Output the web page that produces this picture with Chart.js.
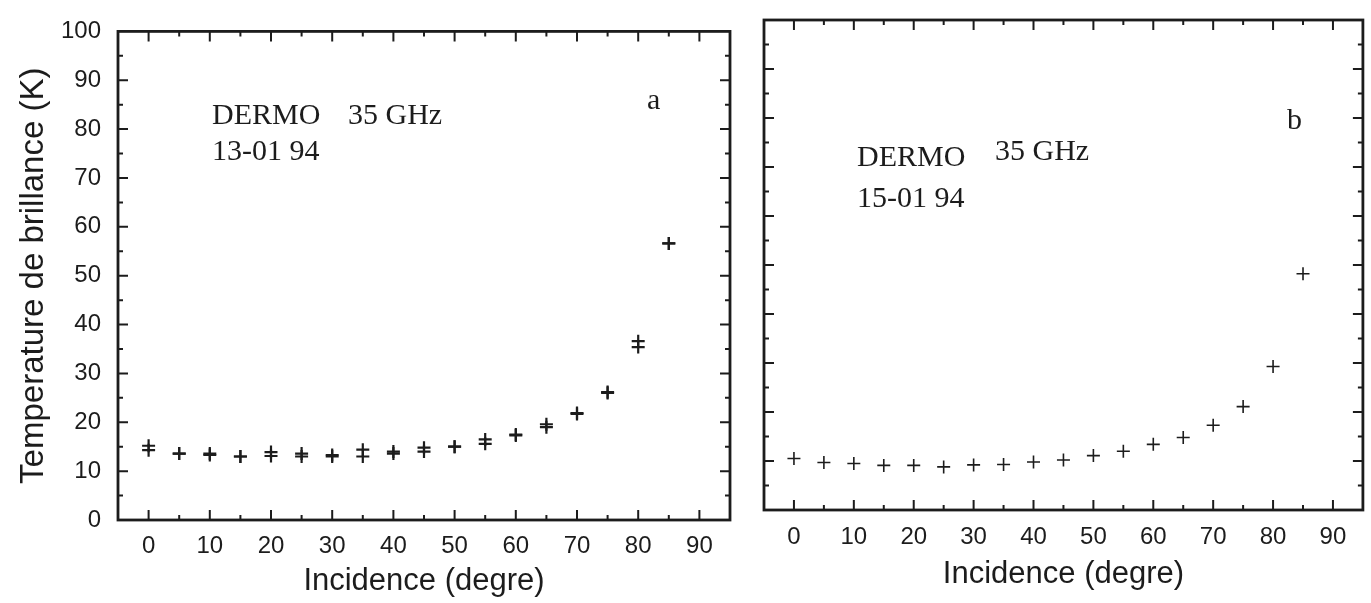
<!DOCTYPE html>
<html lang="fr">
<head>
    <meta charset="UTF-8">
    <title>DERMO 35 GHz - Temperature de brillance</title>
    <style>
        html, body {
            margin: 0;
            padding: 0;
            background: #ffffff;
        }

        body {
            width: 1371px;
            height: 603px;
            position: relative;
            overflow: hidden;
        }

        canvas {
            position: absolute;
            top: 0;
        }

        #panel-a { left: 0; }
        #panel-b { left: 745px; }
    </style>
</head>
<body>
    <canvas id="panel-a" width="745" height="603"></canvas>
    <canvas id="panel-b" width="626" height="603"></canvas>

    <script src="https://cdn.jsdelivr.net/npm/chart.js"></script>
    <script>
        // Incidence angles (degre)
        const angles = [0, 5, 10, 15, 20, 25, 30, 35, 40, 45, 50, 55, 60, 65, 70, 75, 80, 85];

        // panel a, 13-01 94: two measurements at each angle
        const tbA1 = [15.2, 13.6, 13.6, 13.0, 13.9, 13.6, 13.3, 14.4, 14.0, 14.8, 15.0, 16.5, 17.5, 19.6, 21.9, 26.2, 36.6, 56.6];
        const tbA2 = [14.3, 13.6, 13.3, 13.0, 13.1, 13.0, 13.0, 13.0, 13.6, 14.0, 15.0, 15.6, 17.3, 19.0, 21.7, 26.0, 35.4, 56.6];

        // panel b, 15-01 94
        const tbB = [10.5, 9.7, 9.5, 9.1, 9.1, 8.8, 9.2, 9.3, 9.8, 10.2, 11.1, 12.0, 13.4, 14.8, 17.3, 21.1, 29.3, 48.2];

        const xTickValues = [0, 10, 20, 30, 40, 50, 60, 70, 80, 90];
        const yTickValues = [0, 10, 20, 30, 40, 50, 60, 70, 80, 90, 100];

        const INK = '#1c1c1c';
        const SANS = "'Liberation Sans', Arial, sans-serif";
        const SERIF = "'Liberation Serif', 'Times New Roman', serif";

        function points(values) {
            return angles.map((a, i) => ({ x: a, y: values[i] }));
        }

        function series(values, width) {
            return {
                data: points(values),
                pointStyle: 'cross',
                pointRadius: 6.5,
                pointBorderWidth: width,
                borderColor: INK,
                backgroundColor: INK,
                showLine: false
            };
        }

        // box round the plot with inward ticks on all four sides
        const frameTicks = {
            id: 'frameTicks',
            afterDraw(chart) {
                const { ctx, chartArea: a, scales: { x, y } } = chart;
                ctx.save();
                ctx.strokeStyle = INK;
                ctx.lineWidth = 2.8;
                ctx.strokeRect(a.left, a.top, a.right - a.left, a.bottom - a.top);

                ctx.lineWidth = 2;
                ctx.beginPath();
                for (let v = 0; v <= 90; v += 5) {
                    const px = x.getPixelForValue(v);
                    const len = v % 10 === 0 ? 10 : 5;
                    ctx.moveTo(px, a.bottom); ctx.lineTo(px, a.bottom - len);
                    ctx.moveTo(px, a.top); ctx.lineTo(px, a.top + len);
                }
                for (let v = 5; v < 100; v += 5) {
                    const py = y.getPixelForValue(v);
                    const len = v % 10 === 0 ? 10 : 5;
                    ctx.moveTo(a.left, py); ctx.lineTo(a.left + len, py);
                    ctx.moveTo(a.right, py); ctx.lineTo(a.right - len, py);
                }
                ctx.stroke();
                ctx.restore();
            }
        };

        // free text inside the plot
        const notes = {
            id: 'notes',
            afterDraw(chart, args, opts) {
                const ctx = chart.ctx;
                ctx.save();
                ctx.fillStyle = INK;
                ctx.textBaseline = 'alphabetic';
                ctx.textAlign = 'left';
                ctx.font = '30px ' + SERIF;
                (opts.items || []).forEach(n => ctx.fillText(n.text, n.x, n.y));
                ctx.restore();
            }
        };

        function makePanel(id, datasets, cfg) {
            return new Chart(document.getElementById(id), {
                type: 'scatter',
                data: { datasets },
                options: {
                    responsive: false,
                    animation: false,
                    layout: { padding: cfg.padding },
                    plugins: {
                        legend: { display: false },
                        tooltip: { enabled: false },
                        notes: { items: cfg.notes }
                    },
                    scales: {
                        x: {
                            type: 'linear',
                            min: -5,
                            max: 95,
                            grid: { display: false, drawTicks: false },
                            border: { display: false },
                            afterBuildTicks: s => { s.ticks = xTickValues.map(v => ({ value: v })); },
                            afterFit: s => { s.height = cfg.xHeight; },
                            ticks: { padding: cfg.xPad, color: INK, font: { family: SANS, size: 24 } },
                            title: {
                                display: true,
                                text: 'Incidence (degre)',
                                color: INK,
                                font: { family: SANS, size: 31 },
                                padding: { top: 0, bottom: cfg.xTitlePad }
                            }
                        },
                        y: {
                            type: 'linear',
                            min: 0,
                            max: 100,
                            grid: { display: false, drawTicks: false },
                            border: { display: false },
                            afterBuildTicks: s => { s.ticks = yTickValues.map(v => ({ value: v })); },
                            afterFit: s => { s.width = cfg.yWidth; },
                            ticks: { display: cfg.yLabels, padding: 17, color: INK, font: { family: SANS, size: 24 } },
                            title: {
                                display: cfg.yLabels,
                                text: 'Temperature de brillance (K)',
                                color: INK,
                                font: { family: SANS, size: 33 },
                                padding: { top: 14, bottom: 0 }
                            }
                        }
                    }
                },
                plugins: [frameTicks, notes]
            });
        }

        makePanel('panel-a', [series(tbA1, 2.2), series(tbA2, 2.2)], {
            padding: { top: 28, right: 15, bottom: 0, left: 0 },
            xHeight: 83,
            xPad: 12,
            xTitlePad: 3,
            yWidth: 118,
            yLabels: true,
            notes: [
                { text: 'DERMO', x: 212, y: 124 },
                { text: '35 GHz', x: 348, y: 124 },
                { text: '13-01 94', x: 212, y: 160 },
                { text: 'a', x: 647, y: 109 }
            ]
        });

        makePanel('panel-b', [series(tbB, 1.6)], {
            padding: { top: 20, right: 2, bottom: 0, left: 0 },
            xHeight: 93,
            xPad: 13,
            xTitlePad: 10,
            yWidth: 19,
            yLabels: false,
            notes: [
                { text: 'DERMO', x: 112, y: 166 },
                { text: '35 GHz', x: 250, y: 160 },
                { text: '15-01 94', x: 112, y: 207 },
                { text: 'b', x: 542, y: 129 }
            ]
        });
    </script>
</body>
</html>
